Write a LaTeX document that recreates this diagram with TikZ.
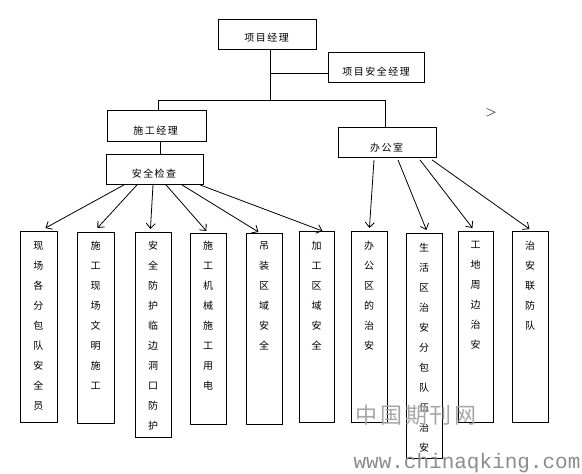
\documentclass[tikz,border=0pt]{standalone}
\usepackage{fontspec}
\newfontfamily\cjk[LetterSpace=15]{Noto Sans CJK SC}
\newfontfamily\cjkw{Noto Sans CJK SC}
\newfontfamily\cjkwm[LetterSpace=12]{Noto Sans CJK SC}
\newfontfamily\monow{Liberation Mono}
\usetikzlibrary{arrows.meta,calc}
\begin{document}
\begin{tikzpicture}[x=1pt,y=-1pt,
  box/.style={draw, line width=0.9pt, inner sep=0pt, anchor=north west},
  hl/.style={font=\cjk\fontsize{10}{12}\selectfont, inner sep=0pt},
  vl/.style={font=\cjkw\fontsize{10}{20}\selectfont, inner sep=0pt, align=center, anchor=north},
  ln/.style={line width=0.8pt},
  ar/.style={line width=0.8pt, -{Straight Barb[length=5pt,width=9pt,line width=0.8pt]}}]
\useasboundingbox (0,0) rectangle (582,474);
% top boxes
\node[box, minimum width=98, minimum height=30] (pm) at (218,19) {};
\node[hl] (pmt) at (266.5,38) {项目经理};
\node[box, minimum width=96, minimum height=30] (psm) at (328,52) {};
\node[hl] (psmt) at (376,72) {项目安全经理};
\node[box, minimum width=99, minimum height=31] (cm) at (107,110) {};
\node[hl] (cmt) at (155.5,131) {施工经理};
\node[box, minimum width=97, minimum height=30] (aq) at (106,154) {};
\node[hl] (aqt) at (154,174) {安全检查};
\node[box, minimum width=98, minimum height=30] (off) at (338,127) {};
\node[hl] (offt) at (386.5,148) {办公室};
% connectors top
\coordinate (j1) at (270,100);
\coordinate (j2) at (270,73);
\coordinate (jl) at (158,100);
\coordinate (jr) at (385,100);
\draw[ln] (270,49) -- (j1);
\draw[ln] (j2) -- (j2 -| psm.west);
\draw[ln] (jl |- cm.north) -- (jl) -- (jr) -- (jr |- off.north);
\draw[ln] (160,141) -- (160,154);
% bottom boxes
\node[box, minimum width=37, minimum height=191] (b1) at (20,231) {};
\node[box, minimum width=37, minimum height=191] (b2) at (77,232) {};
\node[box, minimum width=36, minimum height=205] (b3) at (135,232) {};
\node[box, minimum width=36, minimum height=191] (b4) at (190,233) {};
\node[box, minimum width=36, minimum height=191] (b5) at (246,233) {};
\node[box, minimum width=35, minimum height=191] (b6) at (299,231) {};
\node[box, minimum width=36, minimum height=191] (b7) at (351,231) {};
\node[box, minimum width=36, minimum height=225] (b8) at (406,233) {};
\node[box, minimum width=35, minimum height=191] (b9) at (458,231) {};
\node[box, minimum width=36, minimum height=191] (b10) at (512,231) {};
% vertical texts
\node[vl] (t1) at (38.5,241) {现\\场\\各\\分\\包\\队\\安\\全\\员};
\node[vl] (t2) at (95.5,241) {施\\工\\现\\场\\文\\明\\施\\工};
\node[vl] (t3) at (153,241) {安\\全\\防\\护\\临\\边\\洞\\口\\防\\护};
\node[vl] (t4) at (208,241) {施\\工\\机\\械\\施\\工\\用\\电};
\node[vl] (t5) at (264,241) {吊\\装\\区\\域\\安\\全};
\node[vl] (t6) at (316.5,241) {加\\工\\区\\域\\安\\全};
\node[vl] (t7) at (369,241) {办\\公\\区\\的\\治\\安};
\node[vl] (t8) at (424,243) {生\\活\\区\\治\\安\\分\\包\\队\\伍\\治\\安};
\node[vl] (t9) at (475.5,241) {工\\地\\周\\边\\治\\安};
\node[vl] (t10) at (530,241) {治\\安\\联\\防\\队};
% arrows from 安全检查
\draw[ar] ($(aq.south west)+(18,0)$) -- ($(b1.north)+(6.5,-3)$);
\draw[ar] ($(aq.south west)+(31,0)$) -- ($(b2.north)+(1.5,-4)$);
\draw[ar] ($(aq.south west)+(47,0)$) -- ($(b3.north)+(-3,-3)$);
\draw[ar] ($(aq.south west)+(60,0)$) -- ($(b4.north)+(-2,-2)$);
\draw[ar] ($(aq.south west)+(76,0)$) -- ($(b5.north)+(-6,-1)$);
\draw[ar] ($(aq.south west)+(94,0)$) -- ($(b6.north)+(5.5,0)$);
% arrows from 办公室
\draw[ar] ($(off.south west)+(36,2)$) -- ($(b7.north)+(0,-3)$);
\draw[ar] ($(off.south west)+(60,2)$) -- ($(b8.north)+(2,-3)$);
\draw[ar] ($(off.south west)+(82,2)$) -- ($(b9.north)+(-3.5,-3)$);
\draw[ar] ($(off.south west)+(94,2)$) -- ($(b10.north)+(-1,-2)$);
% misc
\node[inner sep=0pt, font=\fontsize{15}{16}\selectfont] (gt) at (491,113) {>};
\node[inner sep=0pt, text=black!35, font=\cjkwm\fontsize{22}{24}\selectfont] (wm1) at (416,415) {中国期刊网};
\node[inner sep=0pt, text=black!45, font=\monow\fontsize{21}{24}\selectfont] (wm2) at (467,463) {www.chinaqking.com};
\end{tikzpicture}
\end{document}
